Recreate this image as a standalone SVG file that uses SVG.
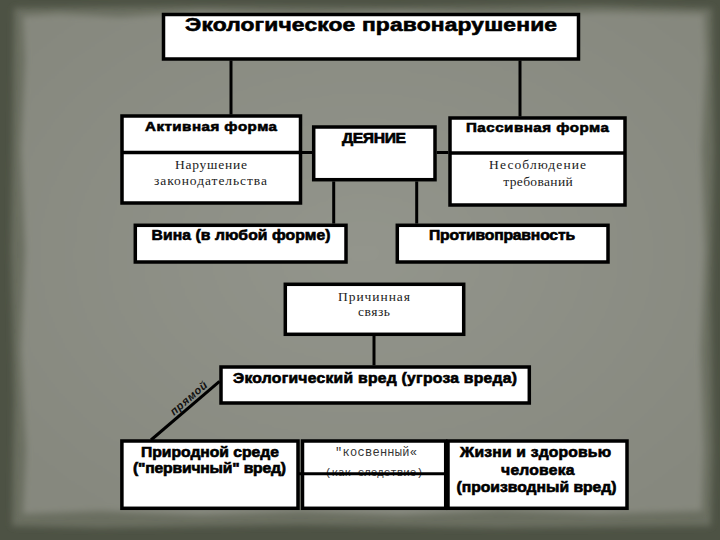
<svg xmlns="http://www.w3.org/2000/svg" width="720" height="540" viewBox="0 0 720 540">
<defs>
  <filter id="soft" x="-5%" y="-5%" width="110%" height="110%"><feGaussianBlur stdDeviation="3"/></filter>
  <radialGradient id="bg" cx="50%" cy="48%" r="65%">
    <stop offset="0" stop-color="#93958c"/>
    <stop offset="1" stop-color="#86887e"/>
  </radialGradient>
</defs>
<style>
  .box{fill:#fff;stroke:#000;stroke-width:3.5}
  .ln{stroke:#000;stroke-width:3;fill:none}
  .b{font-family:"Liberation Sans",Arial,sans-serif;font-weight:bold;fill:#000;stroke:#000;stroke-width:0.6;text-anchor:middle}
  .s{font-family:"Liberation Serif","Times New Roman",serif;fill:#222;text-anchor:middle;font-size:13.5px}
  .m{font-family:"Liberation Mono","Courier New",monospace;fill:#333;text-anchor:middle}
</style>

<g id="background">
  <rect width="720" height="540" fill="#4d5244"/>
  <path filter="url(#soft)" fill="#6a6e60" d="M14,8 L200,6 L400,7 L600,5 L712,8 L714,150 L711,300 L713,450 L711,526 L500,528 L300,525 L100,528 L12,526 L14,400 L11,250 L13,100 Z"/>
  <path filter="url(#soft)" fill="url(#bg)" d="M23,16 L60,14 L120,17 L200,12 L300,15 L400,12 L500,15 L600,12 L704,14 L706,60 L702,150 L705,250 L701,350 L704,450 L702,511 L600,514 L500,510 L400,515 L300,511 L200,515 L100,511 L23,514 L26,450 L21,350 L25,250 L21,150 L25,60 Z"/>
</g>

<g id="n-title">
  <rect class="box" x="163.5" y="14.5" width="415" height="44.5"/>
  <text class="b" transform="translate(371,31) scale(1.2,1)" font-size="19" textLength="310">Экологическое правонарушение</text>
</g>

<g id="n-active">
  <rect class="box" x="122" y="116" width="178.5" height="87"/>
  <line x1="122" y1="152.5" x2="300.5" y2="152.5" stroke="#000" stroke-width="3.5"/>
  <text class="b" transform="translate(211,131) scale(1.12,1)" font-size="13.5" textLength="117.9">Активная форма</text>
  <text class="s" x="211" y="168.5" textLength="72">Нарушение</text>
  <text class="s" x="210.5" y="185" textLength="113">законодательства</text>
</g>

<g id="n-deyanie">
  <rect class="box" x="313.7" y="127" width="121.3" height="52.7"/>
  <text class="b" transform="translate(374,143) scale(1.12,1)" font-size="14" textLength="57.1">ДЕЯНИЕ</text>
</g>

<g id="n-passive">
  <rect class="box" x="450" y="118" width="175" height="87"/>
  <line x1="450" y1="153" x2="625" y2="153" stroke="#000" stroke-width="3.5"/>
  <text class="b" transform="translate(537.5,132) scale(1.12,1)" font-size="13.5" textLength="127.7">Пассивная форма</text>
  <text class="s" x="537.6" y="169" textLength="97">Несоблюдение</text>
  <text class="s" x="538" y="185.5" textLength="69.5">требований</text>
</g>

<g id="n-vina">
  <rect class="box" x="135.3" y="225.3" width="210.7" height="36.7"/>
  <text class="b" transform="translate(241,240) scale(1.12,1)" font-size="14" textLength="159.8">Вина (в любой форме)</text>
</g>

<g id="n-protiv">
  <rect class="box" x="397.3" y="225.3" width="210.7" height="36.7"/>
  <text class="b" transform="translate(502,240) scale(1.12,1)" font-size="14" textLength="130.4">Противоправность</text>
</g>

<g id="n-prichin">
  <rect class="box" x="285.3" y="284.3" width="178.4" height="50"/>
  <text class="s" x="374" y="300.5" textLength="72">Причинная</text>
  <text class="s" x="374" y="316" textLength="32">связь</text>
</g>

<g id="n-eko">
  <rect class="box" x="221" y="367" width="308.3" height="36"/>
  <text class="b" transform="translate(375,383) scale(1.12,1)" font-size="14" textLength="253.6">Экологический вред (угроза вреда)</text>
</g>

<g id="n-priroda">
  <rect class="box" x="121.9" y="441" width="176.1" height="67.3"/>
  <text class="b" transform="translate(210,457) scale(1.12,1)" font-size="14" textLength="123.2">Природной среде</text>
  <text class="b" transform="translate(209.5,473) scale(1.12,1)" font-size="14" textLength="136.6">("первичный" вред)</text>
</g>

<g id="n-kosv">
  <rect class="box" x="302.5" y="441" width="143.2" height="67.3"/>
  <text class="m" x="376" y="456" font-size="12" textLength="82">"косвенный«</text>
  <text class="m" x="374" y="476" font-size="11" textLength="98">(как следствие)</text>
</g>

<g id="n-zhizn">
  <rect class="box" x="448" y="441" width="179" height="67.3"/>
  <text class="b" transform="translate(535.6,457) scale(1.12,1)" font-size="14" textLength="134.8">Жизни и здоровью</text>
  <text class="b" transform="translate(537.8,475) scale(1.12,1)" font-size="14" textLength="65.6">человека</text>
  <text class="b" transform="translate(536.5,492) scale(1.12,1)" font-size="14" textLength="142.9">(производный вред)</text>
</g>

<g id="connectors">
  <path class="ln" d="M231,60.5 V114.5"/>
  <path class="ln" d="M520,60.5 V116.5"/>
  <path class="ln" d="M302,152.5 H312"/>
  <path class="ln" d="M436.7,152.5 H448.3"/>
  <path class="ln" d="M333.7,181.4 V223.6"/>
  <path class="ln" d="M416.7,181.4 V223.6"/>
  <path class="ln" d="M374,336 V365.3"/>
  <path class="ln" d="M219.5,381.3 L151,440"/>
  <path class="ln" d="M298,473.7 H448"/>
  <text transform="translate(191,401) rotate(-41)" font-family="'Liberation Sans',Arial,sans-serif" font-weight="bold" font-style="italic" font-size="11" text-anchor="middle" textLength="45" fill="#111">прямой</text>
</g>
</svg>
